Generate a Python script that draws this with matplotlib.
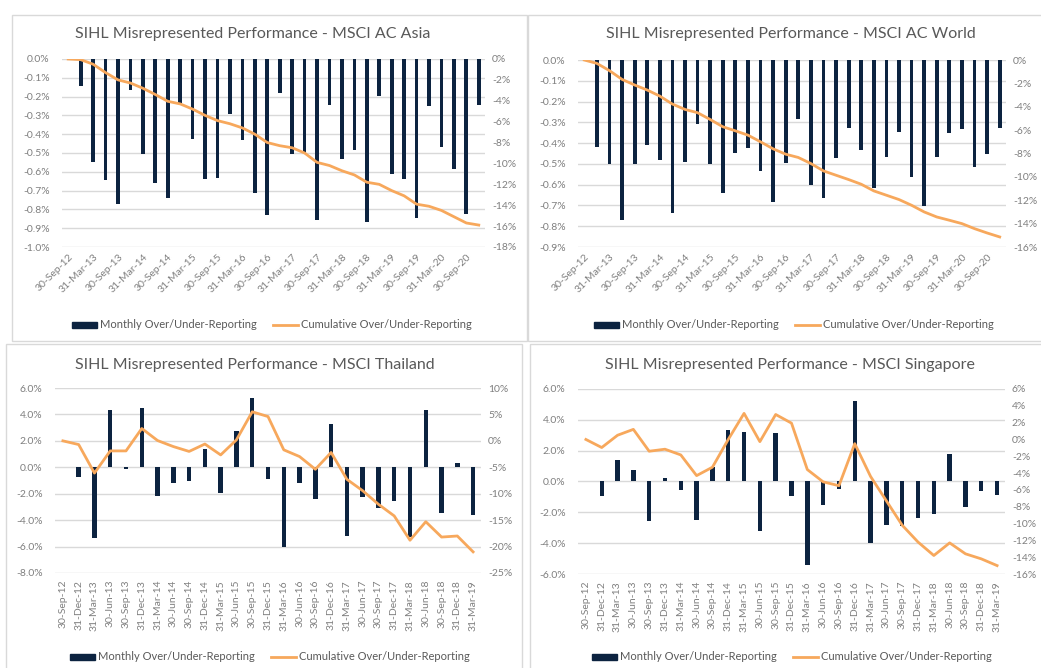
import matplotlib
matplotlib.use("Agg")
import matplotlib.pyplot as plt
from matplotlib.patches import Rectangle, Patch
from matplotlib.lines import Line2D
from matplotlib.ticker import FuncFormatter, MultipleLocator

plt.rcParams['font.family'] = ['Lato', 'DejaVu Sans']
plt.rcParams['axes.unicode_minus'] = False

# quarter-end dates
quarters = ['30-Sep-12', '31-Dec-12', '31-Mar-13', '30-Jun-13', '30-Sep-13', '31-Dec-13',
            '31-Mar-14', '30-Jun-14', '30-Sep-14', '31-Dec-14', '31-Mar-15', '30-Jun-15',
            '30-Sep-15', '31-Dec-15', '31-Mar-16', '30-Jun-16', '30-Sep-16', '31-Dec-16',
            '31-Mar-17', '30-Jun-17', '30-Sep-17', '31-Dec-17', '31-Mar-18', '30-Jun-18',
            '30-Sep-18', '31-Dec-18', '31-Mar-19', '30-Jun-19', '30-Sep-19', '31-Dec-19',
            '31-Mar-20', '30-Jun-20', '30-Sep-20', '31-Dec-20']
quarters_short = quarters[:27]

# MSCI AC Asia (monthly in %, cumulative in %)
asia_monthly = [0, -0.145, -0.548, -0.642, -0.773, -0.167, -0.504, -0.660, -0.739, -0.234,
                -0.426, -0.637, -0.633, -0.294, -0.433, -0.713, -0.832, -0.181, -0.505, -0.500,
                -0.855, -0.243, -0.530, -0.482, -0.869, -0.199, -0.610, -0.638, -0.846, -0.248,
                -0.468, -0.585, -0.823, -0.243]
asia_cum = [0, -0.06, -0.5, -1.3, -2.0, -2.3, -2.8, -3.4, -4.05, -4.3, -4.8, -5.4, -5.9, -6.2,
            -6.6, -7.2, -8.0, -8.3, -8.5, -9.0, -9.9, -10.2, -10.7, -11.1, -11.8, -12.0, -12.6,
            -13.1, -13.9, -14.1, -14.5, -15.1, -15.7, -15.9]

# MSCI AC World
world_monthly = [0, -0.42, -0.50, -0.77, -0.50, -0.407, -0.48, -0.734, -0.489, -0.308, -0.502,
                 -0.641, -0.446, -0.425, -0.532, -0.684, -0.497, -0.284, -0.60, -0.665, -0.474,
                 -0.329, -0.433, -0.617, -0.468, -0.345, -0.564, -0.705, -0.468, -0.349, -0.333,
                 -0.513, -0.454, -0.329]
world_cum = [0, -0.29, -0.91, -1.66, -2.14, -2.57, -3.09, -3.77, -4.23, -4.51, -5.09, -5.71,
             -6.06, -6.43, -7.0, -7.6, -8.06, -8.34, -8.86, -9.49, -9.86, -10.23, -10.63, -11.2,
             -11.57, -11.94, -12.43, -13.0, -13.43, -13.71, -14.0, -14.43, -14.8, -15.14]

# MSCI Thailand
thai_monthly = [0, -0.71, -5.34, 4.35, -0.15, 4.46, -2.18, -1.16, -1.01, 1.39, -1.92, 2.76,
                5.27, -0.91, -6.03, -1.22, -2.43, 3.27, -5.19, -2.23, -3.06, -2.56, -5.27,
                4.3, -3.44, 0.3, -3.62]
thai_cum = [0, -0.7, -6.1, -1.9, -1.9, 2.34, 0.06, -1.08, -2.0, -0.6, -2.66, 0.19, 5.5, 4.6,
            -1.7, -2.97, -5.38, -2.2, -7.28, -9.43, -12.0, -14.2, -18.8, -15.3, -18.2, -18.0,
            -21.0]

# MSCI Singapore
sing_monthly = [0, -0.91, 1.39, 0.74, -2.57, 0.2, -0.57, -2.52, 0.91, 3.35, 3.22, -3.24, 3.17,
                -0.96, -5.41, -1.54, -0.46, 5.2, -3.98, -2.85, -2.91, -2.37, -2.09, 1.78,
                -1.65, -0.61, -0.85]
sing_cum = [0, -0.96, 0.5, 1.2, -1.4, -1.16, -1.84, -4.3, -3.3, 0, 3.1, -0.26, 2.97, 1.94,
            -3.58, -5.04, -5.5, -0.5, -4.4, -7.3, -10.2, -12.2, -13.8, -12.3, -13.6, -14.2, -15.0]

W, H = 1041, 668
BAR = '#0c2340'
LINE = '#f7a85c'
GRID = '#d9d9d9'
TICK = '#7f7f7f'
TXT = '#595959'


def rect(x0, x1, ytop, ybot):
    return [x0 / W, 1 - ybot / H, (x1 - x0) / W, (ybot - ytop) / H]


def panel(fig, x0, y0, x1, y1):
    fig.patches.append(Rectangle((x0 / W, 1 - y1 / H), (x1 - x0) / W, (y1 - y0) / H,
                                 transform=fig.transFigure, fill=False,
                                 edgecolor=GRID, linewidth=1.0))


def draw(fig, box, labels, monthly, cum, lims, rlims, step, rstep, lfmt, title, title_xy,
         legend_xy, rotate45, barw):
    ax = fig.add_axes(rect(*box))
    x = list(range(len(monthly)))
    ax.bar(x, monthly, width=barw, color=BAR, zorder=2)
    ax.set_xlim(-0.5, len(monthly) - 0.5)
    ax.set_ylim(*lims)
    ax.yaxis.set_major_locator(MultipleLocator(step))
    ax.yaxis.set_major_formatter(FuncFormatter(lambda v, p: lfmt % v if abs(v) > 1e-9 else lfmt % 0))
    ax.grid(axis='y', color=GRID, linewidth=1.0, zorder=0)
    ax.set_axisbelow(True)
    for s in ax.spines.values():
        s.set_visible(False)
    ax.tick_params(length=0, labelsize=7.5, labelcolor=TICK)
    ax.tick_params(axis='y', pad=9)
    if rotate45:
        ax.set_xticks(x[::2])
        ax.set_xticklabels(labels[::2], rotation=45, ha='right', va='top',
                           rotation_mode='anchor')
        ax.tick_params(axis='x', pad=4)
    else:
        ax.set_xticks(x)
        ax.set_xticklabels(labels, rotation=90, ha='center', va='top')
        ax.tick_params(axis='x', pad=5)

    ax2 = ax.twinx()
    ax2.plot(x, cum, color=LINE, linewidth=2.0, zorder=3)
    ax2.set_ylim(*rlims)
    ax2.yaxis.set_major_locator(MultipleLocator(rstep))
    ax2.yaxis.set_major_formatter(FuncFormatter(lambda v, p: '%d%%' % round(v)))
    for s in ax2.spines.values():
        s.set_visible(False)
    ax2.tick_params(length=0, labelsize=7.5, labelcolor=TICK, pad=5)

    fig.text(title_xy[0] / W, 1 - title_xy[1] / H, title, ha='center', va='center',
             fontsize=11.5, color=TXT)
    handles = [Patch(facecolor=BAR, edgecolor=BAR),
               Line2D([0], [0], color=LINE, linewidth=2.0)]
    fig.legend(handles, ['Monthly Over/Under-Reporting', 'Cumulative Over/Under-Reporting'],
               loc='center', bbox_to_anchor=(legend_xy[0] / W, 1 - legend_xy[1] / H),
               ncol=2, frameon=False, fontsize=8, labelcolor=TXT, handlelength=2.2,
               handleheight=0.45, columnspacing=1.5, handletextpad=0.3)


fig = plt.figure(figsize=(W / 100, H / 100), dpi=100)
fig.patch.set_facecolor('white')

panel(fig, 12, 15, 527, 341)
panel(fig, 528, 15, 1050, 341)
panel(fig, 6, 344, 522, 675)
panel(fig, 530, 344, 1050, 675)

draw(fig, (62, 485, 59, 247), quarters, asia_monthly, asia_cum, (-1.0, 0.0), (-18, 0),
     0.1, 2, '%.1f%%', 'SIHL Misrepresented Performance - MSCI AC Asia', (253, 34),
     (272, 325), True, 0.3)
draw(fig, (578, 1006, 60, 247), quarters, world_monthly, world_cum, (-0.9, 0.0), (-16, 0),
     0.1, 2, '%.1f%%', 'SIHL Misrepresented Performance - MSCI AC World', (791, 34),
     (794, 325), True, 0.3)
draw(fig, (55, 481, 388, 573), quarters_short, thai_monthly, thai_cum, (-8, 6), (-25, 10),
     2, 5, '%.1f%%', 'SIHL Misrepresented Performance - MSCI Thailand', (255, 365),
     (270, 657), False, 0.28)
draw(fig, (578, 1005, 389, 574), quarters_short, sing_monthly, sing_cum, (-6, 6), (-16, 6),
     2, 2, '%.1f%%', 'SIHL Misrepresented Performance - MSCI Singapore', (790, 365),
     (792, 657), False, 0.28)

fig.savefig('out.png', dpi=100)
